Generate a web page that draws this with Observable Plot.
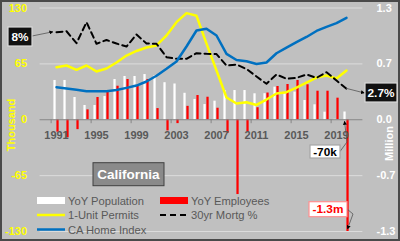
<!DOCTYPE html>
<html><head><meta charset="utf-8">
<script src="https://cdn.jsdelivr.net/npm/d3@7"></script>
<script src="https://cdn.jsdelivr.net/npm/@observablehq/plot@0.6"></script>
<style>
html,body{margin:0;padding:0;background:#c0c0c0;}
#chart svg{display:block;}
</style></head><body><div id="chart"></div>
<script>
const years = [1991,1992,1993,1994,1995,1996,1997,1998,1999,2000,2001,2002,2003,2004,2005,2006,2007,2008,2009,2010,2011,2012,2013,2014,2015,2016,2017,2018,2019,2020];
const yoyPopulation = [45.7,45.7,25.9,16.6,16.6,27.0,46.8,50.3,50.3,52.6,51.1,43.1,41.6,30.8,23.6,17.7,21.6,34.0,34.0,34.0,30.2,30.3,37.9,30.3,32.2,22.4,17.4,8.8,0.5,9];
const yoyEmployees = [-14.5,-21,-11.5,11.5,25.9,32,39,46.8,39,46.8,13,-13,-4.5,15.6,28.2,26.2,13.4,-15.7,-87,-14.5,14,31.1,38.7,41.0,45.7,40.7,33.2,33.2,25.1,-130];
const unitPermits = [61.1,63.1,58.1,63.1,56.1,59.6,66.6,74.7,80,84,86.4,98,113.5,124,121,88.6,57.3,25.9,18.9,20.4,17.2,23.5,30.5,32,37.5,43.3,49.1,51.5,48,57.3];
const mortgageRate = [7.83,7.92,6.85,8.73,6.80,7.14,6.82,6.55,7.63,6.82,6.80,5.60,5.45,5.45,5.96,5.90,5.88,4.85,4.94,4.54,3.87,3.22,4.05,3.66,3.75,4.05,3.75,4.26,3.51,2.77];
const homeIndex = [37.9,36.3,34.8,33.2,33.2,33.2,34.6,37.1,39.8,44.5,51.2,59.3,67.8,85.2,103.8,105.8,98.0,76.7,69.5,68.1,64.9,66.6,77.4,84.0,90.2,96.3,103.3,108.0,112.4,118.6];
const labelYears = [1991,1995,1999,2003,2007,2011,2015,2019];
const leftTicks = [-130,-65,0,65,130];
const leftTickLabels = ["-130","-65","0","65","130"];
const rightTickLabels = ["-1.3","-0.7","0.0","0.7","1.3"];
const gridTicks = [-130,-65,65,130];
const mortgageFactor = 13;
const seriesNames = ["YoY Population","YoY Employees","1-Unit Permits","30yr Mortg %","CA Home Index"];
const axisTitles = ["Thousand","Million"];
const startLabel = "8%", endLabel = "2.7%", popLabel = "-70k", empLabel = "-1.3m";
const title = "California";

const data = years.map((year,i)=>({year, pop: yoyPopulation[i], emp: yoyEmployees[i], permits: unitPermits[i], mort: mortgageRate[i]*mortgageFactor, home: homeIndex[i]}));
const FONT = "'Liberation Sans', Arial, sans-serif";

const chart = Plot.plot({
  width: 400, height: 241,
  marginLeft: 39.6, marginRight: 37.6, marginTop: 7.5, marginBottom: 10,
  style: {background: "#c0c0c0", fontFamily: FONT, overflow: "visible"},
  x: {type: "band", domain: years, padding: 0, axis: null},
  y: {domain: [-130,130], axis: null},
  marks: [
    Plot.ruleY(gridTicks, {stroke: "#dcdcdc", strokeWidth: 1}),
    Plot.barY(data, {x: "year", y: "pop", fill: "#ffffff", insetLeft: 2.4, insetRight: 5.35}),
    Plot.barY(data, {x: "year", y: "emp", fill: "#ff0000", insetLeft: 5.4, insetRight: 2.35}),
    Plot.ruleY([0], {stroke: "#868686", strokeWidth: 1}),
    Plot.ruleX(labelYears, {x: d=>d, y1: 0, y2: -4.6, dx: -5.375, stroke: "#868686"}),
    Plot.line(data, {x: "year", y: "permits", stroke: "#ffff00", strokeWidth: 2.5}),
    Plot.line(data, {x: "year", y: "mort", stroke: "#000000", strokeWidth: 2, strokeDasharray: "6,4"}),
    Plot.line(data, {x: "year", y: "home", stroke: "#0070c0", strokeWidth: 2.5}),
    Plot.text(leftTicks, {y: d=>d, text: (d,i)=>leftTickLabels[i], frameAnchor: "left", dx: -13, textAnchor: "end", fill: "#ffff00", fontWeight: "bold", fontSize: 11}),
    Plot.text(leftTicks, {y: d=>d, text: (d,i)=>rightTickLabels[i], frameAnchor: "right", dx: 13.6, textAnchor: "start", fill: "#ffffff", fontWeight: "bold", fontSize: 11}),
    Plot.text(labelYears, {x: d=>d, y: 0, dy: 16, text: d=>String(d), fill: "#595959", fontWeight: "bold", fontSize: 11})
  ]
});
chart.style.outline = "2px solid #4a4a4a";
chart.style.outlineOffset = "-2px";
document.getElementById("chart").appendChild(chart);

const svg = d3.select(chart);
const xs = chart.scale("x"), ys = chart.scale("y");
const xc = yr => xs.apply(yr) + xs.bandwidth/2;
const defs = svg.append("defs");
defs.append("marker").attr("id","arr").attr("viewBox","0 0 10 10").attr("refX",9).attr("refY",5)
  .attr("markerWidth",5).attr("markerHeight",5).attr("orient","auto-start-reverse")
  .append("path").attr("d","M0,0L10,5L0,10z").attr("fill","#000");

// axis titles
svg.append("text").attr("transform","translate(11,125) rotate(-90)").attr("text-anchor","middle").attr("dy","0.36em")
  .attr("font-family",FONT).attr("font-size",11).attr("font-weight","bold").attr("fill","#ffff00").text(axisTitles[0]);
svg.append("text").attr("transform","translate(389,143.5) rotate(-90)").attr("text-anchor","middle").attr("dy","0.36em")
  .attr("font-family",FONT).attr("font-size",11).attr("font-weight","bold").attr("fill","#ffffff").text(axisTitles[1]);

// legend
const lg = svg.append("g").attr("font-family", FONT).attr("font-size", 11.2).attr("fill", "#595959").attr("text-anchor","start");
lg.append("rect").attr("x",37).attr("y",197).attr("width",28).attr("height",7).attr("fill","#ffffff");
lg.append("rect").attr("x",160).attr("y",197).attr("width",28).attr("height",7).attr("fill","#ff0000");
lg.append("line").attr("x1",37).attr("x2",65).attr("y1",215).attr("y2",215).attr("stroke","#ffff00").attr("stroke-width",2.5);
lg.append("line").attr("x1",160).attr("x2",188).attr("y1",215).attr("y2",215).attr("stroke","#000").attr("stroke-width",2).attr("stroke-dasharray","6,4");
lg.append("line").attr("x1",37).attr("x2",65).attr("y1",229.5).attr("y2",229.5).attr("stroke","#0070c0").attr("stroke-width",2.5);
[[68,201,0],[191,201,1],[68,215,2],[191,215,3],[68,230,4]].forEach(([x,y,i])=>{
  lg.append("text").attr("x",x).attr("y",y).attr("dy","0.36em").attr("text-anchor","start").text(seriesNames[i]);
});

// title box
svg.append("rect").attr("x",93).attr("y",162.7).attr("width",71).attr("height",23).attr("fill","#8a8a8a").attr("stroke","#404040").attr("stroke-width",1);
svg.append("text").attr("x",128.5).attr("y",174.5).attr("dy","0.36em").attr("text-anchor","middle").attr("font-family",FONT)
  .attr("font-size",13.5).attr("font-weight","bold").attr("fill","#ffffff").text(title);

function box(x,y,w,h,fill,stroke,txt,color){
  svg.append("rect").attr("x",x).attr("y",y).attr("width",w).attr("height",h).attr("fill",fill).attr("stroke",stroke).attr("stroke-width",1.2);
  svg.append("text").attr("x",x+w/2).attr("y",y+h/2).attr("dy","0.36em").attr("text-anchor","middle").attr("font-family",FONT)
    .attr("font-size",11.8).attr("font-weight","bold").attr("fill",color).text(txt);
}
function conn(pts){
  svg.append("path").attr("d","M"+pts.map(p=>p.join(",")).join("L")).attr("fill","none").attr("stroke","#555").attr("stroke-width",0.8).attr("marker-end","url(#arr)");
}
const x0 = xc(years[0]), xN = xc(years[years.length-1]);
conn([[32,36],[x0-3, ys.apply(data[0].mort)]]);
box(8,27,24,19,"#111111","#d9d9d9",startLabel,"#ffffff");
conn([[xN, ys.apply(data[data.length-1].mort)],[364.5,93]]);
box(365,83,32,19,"#111111","#d9d9d9",endLabel,"#ffffff");
conn([[340,151.5],[347,142],[xN-1.5, ys.apply(0)+2]]);
box(310,145,30,13,"#ffffff","#a6a6a6",popLabel,"#000000");
conn([[347,209],[353,214],[xN+1.5, ys.apply(-130)-2]]);
box(309,201.7,38,15,"#ffffff","#ff9090",empLabel,"#ff0000");
</script></body></html>
